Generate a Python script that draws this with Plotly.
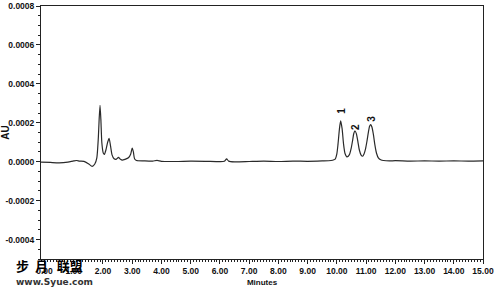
import plotly.graph_objects as go

# Retention time (minutes) and absorbance (AU)
minutes = [-0.12, 0.2, 0.5, 0.8, 1.0, 1.1, 1.2, 1.35, 1.5, 1.63, 1.72, 1.79, 1.84, 1.87, 1.90, 1.93,
           1.96, 2.01, 2.05, 2.10, 2.16, 2.21, 2.26, 2.31, 2.38, 2.45, 2.53, 2.60, 2.66, 2.75, 2.87,
           2.95, 3.00, 3.04, 3.08, 3.15, 3.4, 3.7, 3.85, 4.0, 4.5, 5.0, 5.5, 6.0, 6.15, 6.23, 6.3,
           6.5, 7.0, 7.5, 8.0, 8.5, 9.0, 9.5, 9.8, 9.9, 9.95, 10.0, 10.04, 10.09, 10.13, 10.18,
           10.23, 10.28, 10.34, 10.39, 10.44, 10.49, 10.54, 10.58, 10.62, 10.67, 10.72, 10.77,
           10.83, 10.88, 10.93, 10.98, 11.03, 11.08, 11.12, 11.16, 11.20, 11.25, 11.30, 11.36,
           11.42, 11.5, 11.6, 11.8, 12.0, 12.5, 13.0, 13.5, 14.0, 14.5, 15.0]
absorbance = [-0.000002, -0.000004, -0.000006, -0.000002, 0.000004, 0.000006, 0.000003, 0.000002,
              -0.00001, -0.000024, -0.000012, 0.00002, 0.00012, 0.00022, 0.00029, 0.00021,
              0.0001, 0.000045, 0.000038, 0.00006, 0.0001, 0.00012, 0.00008, 0.000035, 0.000015,
              0.000012, 0.000022, 0.000012, 0.000008, 0.000012, 0.00002, 0.00004, 0.00007,
              0.00005, 0.000015, 0.000006, 0.000004, 0.000003, 0.000007, 0.000002, 0.000001,
              0.000003, 0.000002, 0.0, 0.000002, 0.000014, 0.000003, -0.000001, 0.000001,
              0.000003, 0.000001, 0.000003, 0.000002, 0.000004, 0.000006, 0.00001, 0.000015,
              0.00004, 0.00009, 0.00017, 0.00021, 0.00017, 0.00009, 0.000042, 0.000025,
              0.000028, 0.00004, 0.000068, 0.00011, 0.000145, 0.000159, 0.000143, 0.000103,
              0.00006, 0.000034, 0.000028, 0.00004, 0.000065, 0.000105, 0.000152, 0.000182,
              0.00019, 0.000178, 0.00014, 0.000088, 0.000042, 0.00002, 0.00001, 0.000006,
              0.000004, 0.000005, 0.000003, 0.000004, 0.000003, 0.000004, 0.000003, 0.000004]

# Peak labels
peak_names = ["1", "2", "3"]
peak_times = [10.13, 10.62, 11.16]
peak_label_au = [0.00026, 0.000178, 0.000219]

# Axis ticks
x_tick_vals = [0, 1, 2, 3, 4, 5, 6, 7, 8, 9, 10, 11, 12, 13, 14, 15]
x_tick_text = ["0.00", "1.00", "2.00", "3.00", "4.00", "5.00", "6.00", "7.00", "8.00",
               "9.00", "10.00", "11.00", "12.00", "13.00", "14.00", "15.00"]
y_tick_vals = [0.0008, 0.0006, 0.0004, 0.0002, 0.0, -0.0002, -0.0004]
y_tick_text = ["0.0008", "0.0006", "0.0004", "0.0002", "0.0000", "-0.0002", "-0.0004"]

FONT = "Liberation Sans Narrow, Arial Narrow, Liberation Sans, Arial, sans-serif"

fig = go.Figure()
fig.add_trace(go.Scatter(
    x=minutes, y=absorbance, mode="lines",
    line=dict(color="#2a2a2a", width=1.2, shape="spline", smoothing=0.6),
    showlegend=False, hoverinfo="skip",
))

for name, t, au in zip(peak_names, peak_times, peak_label_au):
    fig.add_annotation(x=t, y=au, text=name, showarrow=False, textangle=-90,
                       font=dict(family=FONT, size=10, color="#111", weight="bold"))

# watermark text (pixel placement, converted to paper coords below)
fig.add_annotation(x=14, y=265, xref="paper", yref="paper",
                   text="步\u00a0\u00a0月\u00a0\u00a0\u00a0联盟", showarrow=False,
                   xanchor="left", yanchor="middle",
                   font=dict(family="Noto Sans CJK SC", size=13, color="#000", weight="bold"))
fig.add_annotation(x=14, y=282, xref="paper", yref="paper", text="www.Syue.com", showarrow=False,
                   xanchor="left", yanchor="middle",
                   font=dict(family="DejaVu Sans", size=9, color="#333", weight="bold"))

axis_common = dict(
    showline=True, linecolor="#222", linewidth=1, mirror=True, automargin=False,
    showgrid=False, zeroline=False, ticks="outside", ticklen=4, tickwidth=1,
    tickcolor="#222",
    tickfont=dict(family=FONT, size=8.5, color="#111", weight="bold"),
)

fig.update_xaxes(
    range=[-0.12, 15], tickmode="array", tickvals=x_tick_vals, ticktext=x_tick_text,
    minor=dict(dtick=0.1, ticklen=2, tickcolor="#222", ticks="outside"),
    title=dict(text="Minutes", font=dict(family=FONT, size=8, color="#111", weight="bold"),
               standoff=4),
    **axis_common,
)
fig.update_yaxes(
    range=[-0.0005, 0.0008], tickmode="array", tickvals=y_tick_vals, ticktext=y_tick_text,
    minor=dict(dtick=0.00005, ticklen=2, tickcolor="#222", ticks="outside"),
    title=dict(text="AU", font=dict(family=FONT, size=10, color="#111", weight="bold"),
               standoff=3),
    ticklabelstandoff=0,
    **axis_common,
)

fig.update_layout(
    width=500, height=292,
    margin=dict(l=41, r=17, t=6, b=33),
    paper_bgcolor="white", plot_bgcolor="white",
)

pw, ph = 500 - 41 - 17, 292 - 6 - 33
for ann in fig.layout.annotations:
    if ann.xref == "paper":
        ann.x = (ann.x - 41) / pw
        ann.y = (292 - 33 - ann.y) / ph

fig.write_html("out.html")
